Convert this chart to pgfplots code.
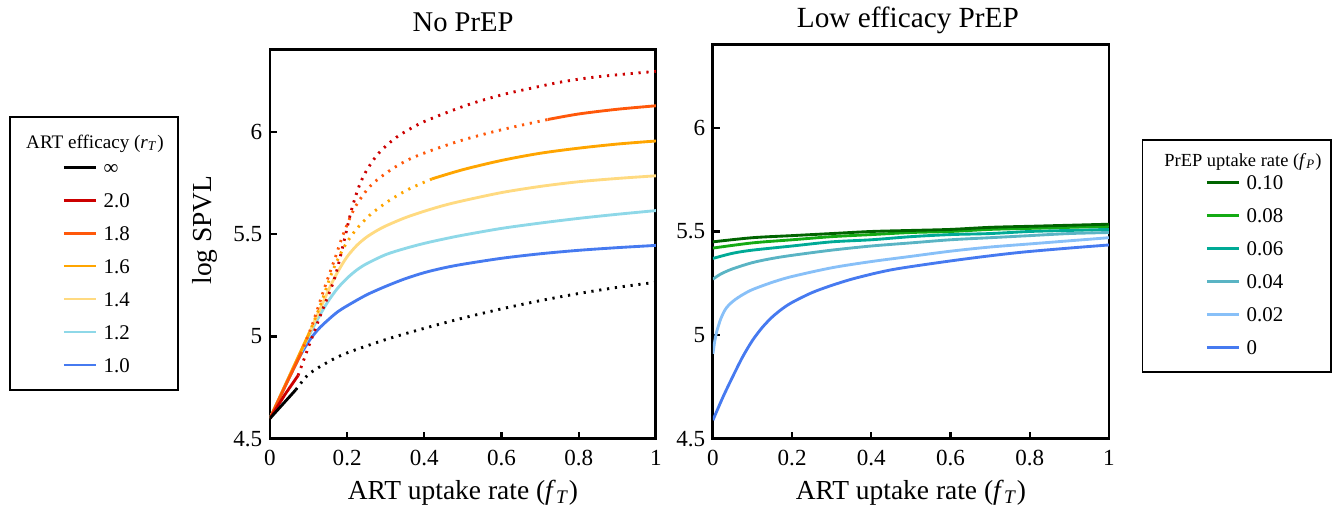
\documentclass[border=0pt]{standalone}
\usepackage{fontspec}
\setmainfont{Liberation Serif}
\usepackage{pgfplots}
\pgfplotsset{compat=1.18}

\definecolor{cinf}{RGB}{0,0,0}
\definecolor{ctwo}{RGB}{204,0,0}
\definecolor{coneeight}{RGB}{255,88,10}
\definecolor{conesix}{RGB}{255,165,0}
\definecolor{conefour}{RGB}{255,218,128}
\definecolor{conetwo}{RGB}{142,216,232}
\definecolor{cone}{RGB}{70,122,240}
\definecolor{pten}{RGB}{0,100,0}
\definecolor{peight}{RGB}{20,170,20}
\definecolor{psix}{RGB}{0,170,150}
\definecolor{pfour}{RGB}{90,180,196}
\definecolor{ptwo}{RGB}{136,192,248}

\pgfplotsset{
  spvl/.style={
    scale only axis,
    xmin=0, xmax=1, ymin=4.5, ymax=6.4,
    xtick={0,0.2,0.4,0.6,0.8,1},
    ytick={4.5,5,5.5,6},
    tick pos=left,
    tick align=inside,
    major tick length=3pt,
    tick style={line width=1pt, black},
    axis line style={line width=1.3pt},
    ticklabel style={font=\fontsize{10.5}{12}\selectfont},
    xticklabel style={yshift=-1.5pt},
    /pgf/number format/assume math mode=true,
    label style={font=\fontsize{12.5}{14}\selectfont},
    every axis plot/.append style={line width=1.3pt},
    legend image code/.code={\draw[#1] (0pt,0pt) -- (14.5pt,0pt);},
    legend style={draw=none, fill=none, inner sep=0pt, anchor=north west,
      font=\fontsize{9.5}{11}\selectfont, row sep=8.5pt, column sep=3pt,
      nodes={inner sep=0pt, text height=6.5pt, text depth=0pt}},
    legend cell align=left,
  },
  dots/.style={dash pattern=on 1pt off 2.6pt},
}

\begin{document}
\begin{tikzpicture}
\path[use as bounding box] (0,0) rectangle (610.2pt,232.5pt);

% left panel: no PrEP
\begin{axis}[spvl,
  at={(122.85pt,32.8pt)}, anchor=south west,
  width=175.6pt, height=177pt,
  xlabel={ART uptake rate (\textit{f}\textsubscript{\textit{T}})},
  xlabel style={at={(axis description cs:0.5,-0.139)}, anchor=center},
  ylabel={log SPVL},
  ylabel style={at={(axis description cs:-0.168,0.537)}, anchor=center},
  legend style={at={(axis description cs:-0.539,0.718)}},
]
\addlegendimage{color=cinf}
\addlegendentry{∞}
\addlegendimage{color=ctwo}
\addlegendentry{2.0}
\addlegendimage{color=coneeight}
\addlegendentry{1.8}
\addlegendimage{color=conesix}
\addlegendentry{1.6}
\addlegendimage{color=conefour}
\addlegendentry{1.4}
\addlegendimage{color=conetwo}
\addlegendentry{1.2}
\addlegendimage{color=cone}
\addlegendentry{1.0}

% r_T = 1.0
\addplot[color=cone, smooth, forget plot] coordinates {
(0,4.6) (0.025,4.70) (0.05,4.80) (0.075,4.895) (0.1,4.975) (0.125,5.035)
(0.15,5.08) (0.175,5.12) (0.2,5.15) (0.25,5.203) (0.3,5.245) (0.35,5.282)
(0.4,5.312) (0.45,5.335) (0.5,5.353) (0.6,5.382) (0.7,5.404) (0.8,5.421)
(0.9,5.434) (1,5.445)};
% r_T = 1.2
\addplot[color=conetwo, smooth, forget plot] coordinates {
(0,4.6) (0.05,4.805) (0.1,5.0) (0.125,5.09) (0.15,5.17) (0.175,5.235)
(0.2,5.285) (0.225,5.325) (0.25,5.355) (0.3,5.40) (0.35,5.43) (0.4,5.455)
(0.45,5.476) (0.5,5.495) (0.6,5.528) (0.7,5.554) (0.8,5.577) (0.9,5.597) (1,5.615)};
% r_T = 1.4
\addplot[color=conefour, smooth, forget plot] coordinates {
(0,4.6) (0.05,4.805) (0.1,5.01) (0.13,5.135) (0.16,5.26) (0.18,5.33)
(0.2,5.39) (0.225,5.445) (0.25,5.485) (0.275,5.515) (0.3,5.54) (0.35,5.58)
(0.4,5.612) (0.45,5.64) (0.5,5.663) (0.6,5.703) (0.7,5.733) (0.8,5.756)
(0.9,5.772) (1,5.785)};
% r_T = 1.6
\addplot[color=conesix, forget plot] coordinates {
(0,4.6) (0.05,4.805) (0.1,5.01)};
\addplot[color=conesix, dots, smooth, forget plot] coordinates {
(0.1,5.01) (0.13,5.15) (0.16,5.31) (0.19,5.43) (0.22,5.515) (0.26,5.595)
(0.31,5.665) (0.36,5.72) (0.42,5.77)};
\addplot[color=conesix, smooth, forget plot] coordinates {
(0.42,5.77) (0.5,5.815) (0.6,5.86) (0.7,5.895) (0.8,5.92) (0.9,5.94) (1,5.955)};
% r_T = 1.8
\addplot[color=coneeight, forget plot] coordinates {
(0,4.6) (0.04,4.76) (0.08,4.915)};
\addplot[color=coneeight, dots, smooth, forget plot] coordinates {
(0.08,4.915) (0.11,5.06) (0.14,5.23) (0.17,5.39) (0.19,5.50) (0.22,5.63)
(0.26,5.735) (0.31,5.81) (0.36,5.865) (0.42,5.91) (0.5,5.96) (0.6,6.01) (0.72,6.06)};
\addplot[color=coneeight, smooth, forget plot] coordinates {
(0.72,6.06) (0.8,6.087) (0.9,6.11) (1,6.127)};
% r_T = 2.0
\addplot[color=ctwo, forget plot] coordinates {
(0,4.6) (0.04,4.72) (0.073,4.81)};
\addplot[color=ctwo, dots, smooth, forget plot] coordinates {
(0.073,4.81) (0.1,4.95) (0.13,5.10) (0.155,5.22) (0.17,5.30) (0.19,5.45)
(0.21,5.61) (0.23,5.73) (0.25,5.81) (0.277,5.885) (0.303,5.935) (0.337,5.985)
(0.4,6.05) (0.51,6.13) (0.6,6.18) (0.67,6.21) (0.76,6.245) (0.855,6.27) (1,6.295)};
% r_T = infinity
\addplot[color=cinf, forget plot] coordinates {
(0,4.6) (0.067,4.74)};
\addplot[color=cinf, dots, smooth, forget plot] coordinates {
(0.067,4.74) (0.1,4.815) (0.15,4.875) (0.2,4.92) (0.3,4.985) (0.4,5.04)
(0.5,5.09) (0.6,5.135) (0.7,5.175) (0.8,5.21) (0.9,5.24) (1,5.265)};
\end{axis}

% right panel: low efficacy PrEP
\begin{axis}[spvl,
  at={(324.4pt,32.8pt)}, anchor=south west,
  width=180.2pt, height=179.3pt,
  xlabel={ART uptake rate (\textit{f}\textsubscript{\textit{T}})},
  xlabel style={at={(axis description cs:0.5,-0.137)}, anchor=center},
  legend style={at={(axis description cs:1.2425,0.669)}},
]
\addlegendimage{color=pten}
\addlegendentry{0.10}
\addlegendimage{color=peight}
\addlegendentry{0.08}
\addlegendimage{color=psix}
\addlegendentry{0.06}
\addlegendimage{color=pfour}
\addlegendentry{0.04}
\addlegendimage{color=ptwo}
\addlegendentry{0.02}
\addlegendimage{color=cone}
\addlegendentry{0}

\addplot[color=cone, smooth, forget plot] coordinates {
(0,4.59) (0.025,4.70) (0.05,4.80) (0.075,4.895) (0.1,4.975) (0.125,5.038)
(0.15,5.088) (0.175,5.127) (0.2,5.158) (0.25,5.205) (0.3,5.24) (0.36,5.275)
(0.45,5.315) (0.57,5.35) (0.68,5.378) (0.78,5.40) (0.9,5.42) (1,5.435)};
\addplot[color=ptwo, smooth, forget plot] coordinates {
(0,4.91) (0.005,4.975) (0.01,5.02) (0.02,5.08) (0.03,5.12) (0.04,5.145)
(0.055,5.17) (0.075,5.195) (0.1,5.22) (0.15,5.255) (0.2,5.283) (0.3,5.325)
(0.4,5.355) (0.5,5.38) (0.6,5.405) (0.7,5.425) (0.8,5.44) (0.9,5.455) (1,5.47)};
\addplot[color=pfour, smooth, forget plot] coordinates {
(0,5.27) (0.02,5.295) (0.05,5.32) (0.1,5.35) (0.15,5.37) (0.2,5.385)
(0.3,5.41) (0.4,5.43) (0.5,5.445) (0.6,5.46) (0.7,5.47) (0.8,5.48)
(0.9,5.49) (1,5.495)};
\addplot[color=psix, smooth, forget plot] coordinates {
(0,5.37) (0.05,5.395) (0.1,5.41) (0.2,5.43) (0.3,5.45) (0.4,5.46)
(0.5,5.475) (0.6,5.485) (0.7,5.49) (0.8,5.50) (0.9,5.505) (1,5.51)};
\addplot[color=peight, smooth, forget plot] coordinates {
(0,5.42) (0.1,5.445) (0.2,5.46) (0.3,5.475) (0.4,5.485) (0.5,5.495)
(0.6,5.50) (0.7,5.51) (0.8,5.515) (0.9,5.52) (1,5.525)};
\addplot[color=pten, smooth, forget plot] coordinates {
(0,5.45) (0.1,5.47) (0.2,5.48) (0.3,5.49) (0.4,5.50) (0.5,5.505)
(0.6,5.51) (0.7,5.52) (0.8,5.525) (0.9,5.53) (1,5.535)};
\end{axis}

% panel titles
\node[font=\fontsize{13}{15}\selectfont] at (210.7pt,222.5pt) {No PrEP};
\node[font=\fontsize{13.3}{15}\selectfont] at (413.1pt,223.4pt) {Low efficacy PrEP};

% legend frames and titles
\draw[line width=0.6pt] (4.55pt,55pt) rectangle (81pt,179.3pt);
\node[font=\fontsize{8.7}{10}\selectfont] at (43.2pt,167.2pt)
  {ART efficacy (\textit{r}\textsubscript{\textit{T}})};
\draw[line width=0.6pt] (520pt,63.2pt) rectangle (605.6pt,168.8pt);
\node[font=\fontsize{8.4}{10}\selectfont] at (565.6pt,158.8pt)
  {PrEP uptake rate (\textit{f}\textsubscript{\textit{P}})};
\end{tikzpicture}
\end{document}
